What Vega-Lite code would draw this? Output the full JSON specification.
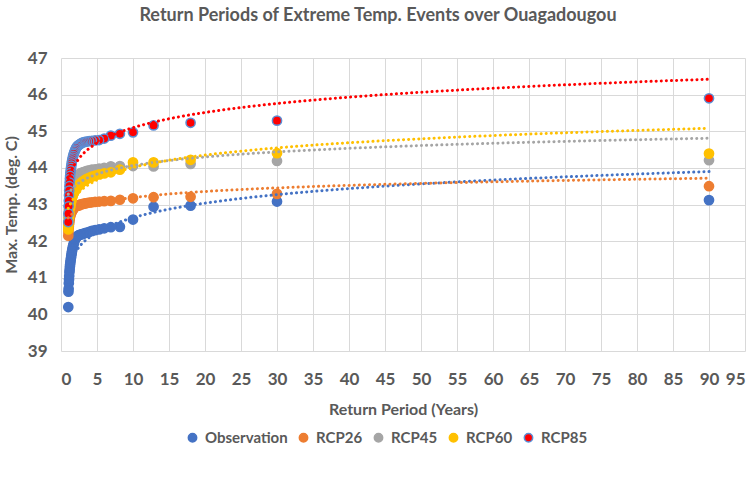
{
  "$schema": "https://vega.github.io/schema/vega-lite/v6.json",
  "width": 684,
  "height": 293,
  "autosize": {"type": "none"},
  "padding": {"left": 61, "top": 58, "right": 8, "bottom": 135},
  "background": "white",
  "title": {"text": "Return Periods of Extreme Temp. Events over Ouagadougou", "fontSize": 18, "font": "Lato", "fontWeight": "bold", "color": "#595959", "anchor": "middle", "offset": 24, "dx": -25},
  "datasets": {
    "rp": [
      {"T": 90, "Observation": 43.12, "RCP26": 43.5, "RCP45": 44.21, "RCP60": 44.39, "RCP85": 45.9},
      {"T": 30, "Observation": 43.08, "RCP26": 43.29, "RCP45": 44.19, "RCP60": 44.4, "RCP85": 45.29},
      {"T": 18, "Observation": 42.97, "RCP26": 43.21, "RCP45": 44.11, "RCP60": 44.22, "RCP85": 45.23},
      {"T": 12.857, "Observation": 42.94, "RCP26": 43.2, "RCP45": 44.04, "RCP60": 44.15, "RCP85": 45.16},
      {"T": 10, "Observation": 42.59, "RCP26": 43.17, "RCP45": 44.05, "RCP60": 44.15, "RCP85": 44.97},
      {"T": 8.182, "Observation": 42.39, "RCP26": 43.13, "RCP45": 44.05, "RCP60": 43.95, "RCP85": 44.93},
      {"T": 6.923, "Observation": 42.38, "RCP26": 43.1, "RCP45": 44.04, "RCP60": 43.88, "RCP85": 44.88},
      {"T": 6, "Observation": 42.35, "RCP26": 43.09, "RCP45": 44.0, "RCP60": 43.85, "RCP85": 44.8},
      {"T": 5.294, "Observation": 42.32, "RCP26": 43.08, "RCP45": 43.98, "RCP60": 43.82, "RCP85": 44.76},
      {"T": 4.737, "Observation": 42.3, "RCP26": 43.07, "RCP45": 43.96, "RCP60": 43.79, "RCP85": 44.75},
      {"T": 4.286, "Observation": 42.28, "RCP26": 43.06, "RCP45": 43.95, "RCP60": 43.76, "RCP85": 44.74},
      {"T": 3.913, "Observation": 42.25, "RCP26": 43.05, "RCP45": 43.93, "RCP60": 43.73, "RCP85": 44.73},
      {"T": 3.6, "Observation": 42.23, "RCP26": 43.04, "RCP45": 43.92, "RCP60": 43.7, "RCP85": 44.72},
      {"T": 3.333, "Observation": 42.22, "RCP26": 43.03, "RCP45": 43.9, "RCP60": 43.67, "RCP85": 44.71},
      {"T": 3.103, "Observation": 42.2, "RCP26": 43.02, "RCP45": 43.88, "RCP60": 43.64, "RCP85": 44.7},
      {"T": 2.903, "Observation": 42.19, "RCP26": 43.01, "RCP45": 43.87, "RCP60": 43.61, "RCP85": 44.68},
      {"T": 2.727, "Observation": 42.18, "RCP26": 43.0, "RCP45": 43.85, "RCP60": 43.58, "RCP85": 44.66},
      {"T": 2.571, "Observation": 42.17, "RCP26": 42.99, "RCP45": 43.83, "RCP60": 43.55, "RCP85": 44.64},
      {"T": 2.432, "Observation": 42.16, "RCP26": 42.98, "RCP45": 43.82, "RCP60": 43.52, "RCP85": 44.62},
      {"T": 2.308, "Observation": 42.14, "RCP26": 42.97, "RCP45": 43.8, "RCP60": 43.49, "RCP85": 44.6},
      {"T": 2.195, "Observation": 42.12, "RCP26": 42.96, "RCP45": 43.78, "RCP60": 43.46, "RCP85": 44.57},
      {"T": 2.093, "Observation": 42.1, "RCP26": 42.95, "RCP45": 43.76, "RCP60": 43.43, "RCP85": 44.54},
      {"T": 2.0, "Observation": 42.07, "RCP26": 42.94, "RCP45": 43.74, "RCP60": 43.4, "RCP85": 44.5},
      {"T": 1.915, "Observation": 42.03, "RCP26": 42.93, "RCP45": 43.72, "RCP60": 43.37, "RCP85": 44.46},
      {"T": 1.837, "Observation": 41.98, "RCP26": 42.92, "RCP45": 43.7, "RCP60": 43.34, "RCP85": 44.42},
      {"T": 1.765, "Observation": 41.93, "RCP26": 42.9, "RCP45": 43.67, "RCP60": 43.31, "RCP85": 44.38},
      {"T": 1.698, "Observation": 41.88, "RCP26": 42.88, "RCP45": 43.64, "RCP60": 43.28, "RCP85": 44.33},
      {"T": 1.636, "Observation": 41.83, "RCP26": 42.86, "RCP45": 43.61, "RCP60": 43.25, "RCP85": 44.28},
      {"T": 1.579, "Observation": 41.78, "RCP26": 42.84, "RCP45": 43.58, "RCP60": 43.22, "RCP85": 44.23},
      {"T": 1.525, "Observation": 41.72, "RCP26": 42.82, "RCP45": 43.55, "RCP60": 43.18, "RCP85": 44.18},
      {"T": 1.475, "Observation": 41.66, "RCP26": 42.8, "RCP45": 43.52, "RCP60": 43.14, "RCP85": 44.12},
      {"T": 1.429, "Observation": 41.6, "RCP26": 42.78, "RCP45": 43.48, "RCP60": 43.1, "RCP85": 44.06},
      {"T": 1.385, "Observation": 41.54, "RCP26": 42.76, "RCP45": 43.44, "RCP60": 43.06, "RCP85": 44.0},
      {"T": 1.343, "Observation": 41.48, "RCP26": 42.74, "RCP45": 43.4, "RCP60": 43.02, "RCP85": 43.93},
      {"T": 1.304, "Observation": 41.42, "RCP26": 42.71, "RCP45": 43.35, "RCP60": 42.97, "RCP85": 43.86},
      {"T": 1.268, "Observation": 41.36, "RCP26": 42.68, "RCP45": 43.3, "RCP60": 42.92, "RCP85": 43.78},
      {"T": 1.233, "Observation": 41.3, "RCP26": 42.64, "RCP45": 43.25, "RCP60": 42.87, "RCP85": 43.7},
      {"T": 1.2, "Observation": 41.22, "RCP26": 42.6, "RCP45": 43.18, "RCP60": 42.82, "RCP85": 43.6},
      {"T": 1.169, "Observation": 41.15, "RCP26": 42.56, "RCP45": 43.1, "RCP60": 42.76, "RCP85": 43.5},
      {"T": 1.139, "Observation": 41.05, "RCP26": 42.51, "RCP45": 43.02, "RCP60": 42.7, "RCP85": 43.38},
      {"T": 1.111, "Observation": 40.95, "RCP26": 42.46, "RCP45": 42.94, "RCP60": 42.64, "RCP85": 43.25},
      {"T": 1.084, "Observation": 40.85, "RCP26": 42.4, "RCP45": 42.85, "RCP60": 42.57, "RCP85": 43.1},
      {"T": 1.059, "Observation": 40.7, "RCP26": 42.33, "RCP45": 42.75, "RCP60": 42.5, "RCP85": 42.95},
      {"T": 1.034, "Observation": 40.62, "RCP26": 42.25, "RCP45": 42.65, "RCP60": 42.42, "RCP85": 42.75},
      {"T": 1.011, "Observation": 40.2, "RCP26": 42.15, "RCP45": 42.5, "RCP60": 42.32, "RCP85": 42.52}
    ]
  },
  "data": {"name": "rp"},
  "transform": [{"fold": ["Observation", "RCP26", "RCP45", "RCP60", "RCP85"], "as": ["series", "temp"]}],
  "encoding": {
    "x": {"field": "T", "type": "quantitative", "title": "Return Period (Years)",
      "scale": {"domain": [0, 95], "nice": false, "zero": false},
      "axis": {"values": [0,5,10,15,20,25,30,35,40,45,50,55,60,65,70,75,80,85,90,95], "labelPadding": 20, "titlePadding": 14}},
    "y": {"field": "temp", "type": "quantitative", "title": "Max. Temp. (deg. C)",
      "scale": {"domain": [39, 47], "nice": false, "zero": false},
      "axis": {"values": [39,40,41,42,43,44,45,46,47], "labelPadding": 14, "titlePadding": 8}}
  },
  "layer": [
    {
      "mark": {"type": "circle", "size": 85, "opacity": 1, "strokeWidth": 1.5},
      "encoding": {
        "fill": {"field": "series", "type": "nominal",
          "scale": {"domain": ["Observation", "RCP26", "RCP45", "RCP60", "RCP85"], "range": ["#4472c4", "#ed7d31", "#a5a5a5", "#ffc000", "#ff0000"]},
          "legend": {"title": null, "orient": "none", "legendX": 124, "legendY": 372, "direction": "horizontal", "symbolType": "circle", "symbolSize": 70, "labelFontSize": 15, "labelFont": "Lato", "labelFontWeight": "bold", "labelColor": "#595959", "columnPadding": 8, "labelOffset": 5}},
        "stroke": {"field": "series", "type": "nominal",
          "scale": {"domain": ["Observation", "RCP26", "RCP45", "RCP60", "RCP85"], "range": ["#4472c4", "#ed7d31", "#a5a5a5", "#ffc000", "#5b8fd6"]},
          "legend": {"title": null, "orient": "none", "legendX": 124, "legendY": 372, "direction": "horizontal", "symbolType": "circle", "symbolSize": 70, "labelFontSize": 15, "labelFont": "Lato", "labelFontWeight": "bold", "labelColor": "#595959", "columnPadding": 8, "labelOffset": 5}},
        "order": {"field": "series"}
      }
    },
    {
      "transform": [{"regression": "temp", "on": "T", "groupby": ["series"], "method": "log", "extent": [1, 90]}],
      "mark": {"type": "line", "strokeWidth": 3, "strokeDash": [0.1, 5], "strokeCap": "round", "clip": true},
      "encoding": {
        "color": {"field": "series", "type": "nominal",
          "scale": {"domain": ["Observation", "RCP26", "RCP45", "RCP60", "RCP85"], "range": ["#4472c4", "#ed7d31", "#a5a5a5", "#ffc000", "#ff0000"]},
          "legend": null},
        "detail": {"field": "series"}
      }
    }
  ],
  "config": {
    "view": {"stroke": null},
    "axis": {"domain": false, "ticks": false, "grid": true, "gridColor": "#d9d9d9", "gridWidth": 1,
      "labelFont": "Lato", "labelFontSize": 17, "labelFontWeight": "bold", "labelColor": "#595959",
      "titleFont": "Lato", "titleFontSize": 16, "titleFontWeight": "bold", "titleColor": "#595959"}
  }
}
